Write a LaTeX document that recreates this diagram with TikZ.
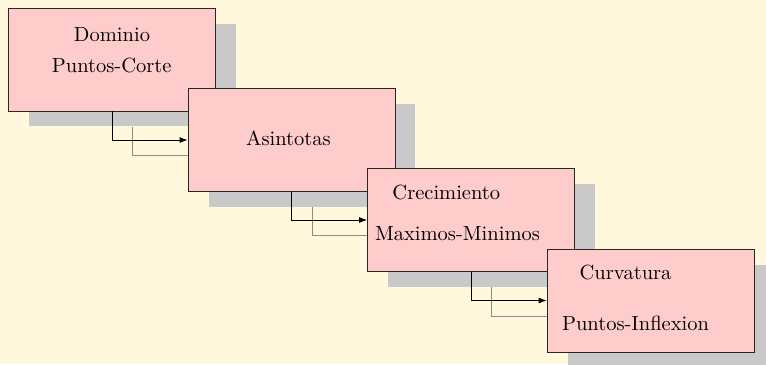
\documentclass[tikz,border=0pt]{standalone}
\usetikzlibrary{arrows.meta}
\definecolor{bgcream}{RGB}{255,248,220}
\definecolor{boxpink}{RGB}{255,204,204}
\definecolor{shadowgray}{RGB}{201,201,201}
\begin{document}
\begin{tikzpicture}[x=0.4875pt,y=-0.4875pt,
  stepbox/.style={draw=black!85, fill=boxpink, minimum width=100.9pt, minimum height=50.2pt, inner sep=0pt},
  shadowbox/.style={fill=shadowgray, minimum width=100.9pt, minimum height=50.2pt, inner sep=0pt},
  lbl/.style={anchor=base, inner sep=0pt},
  flow/.style={-{Latex[length=3.9pt,width=2.9pt]}, black},
  flowshadow/.style={black!45}]
\useasboundingbox (0,0) rectangle (766,364);
\fill[bgcream] (0,0) rectangle (766,364);
% shadows
\node[shadowbox] (s1) at (132.5,75) {};
\node[shadowbox] (s2) at (312,155.5) {};
\node[shadowbox] (s3) at (491.5,235.5) {};
\node[shadowbox] (s4) at (671,316) {};
% box 1
\node[stepbox] (b1) at (112,59.5) {};
\node[lbl] (t1a) at (112,41.5) {Dominio};
\node[lbl] (t1b) at (111.7,72.3) {Puntos-Corte};
\draw[flowshadow] (s1.south) |- (s2.west);
% box 2
\node[stepbox] (b2) at (291.5,140) {};
\node[lbl] (t2a) at (288.5,145) {Asintotas};
\draw[flow] (b1.south) |- (b2.west);
\draw[flowshadow] (s2.south) |- (s3.west);
% box 3
\node[stepbox] (b3) at (471,220) {};
\node[lbl] (t3a) at (446.3,199.3) {Crecimiento};
\node[lbl] (t3b) at (457.5,240) {Maximos-Minimos};
\draw[flow] (b2.south) |- (b3.west);
\draw[flowshadow] (s3.south) |- (s4.west);
% box 4
\node[stepbox] (b4) at (650.5,300.5) {};
\node[lbl] (t4a) at (625.5,279) {Curvatura};
\node[lbl] (t4b) at (635.5,330.7) {Puntos-Inflexion};
\draw[flow] (b3.south) |- (b4.west);
\end{tikzpicture}
\end{document}
